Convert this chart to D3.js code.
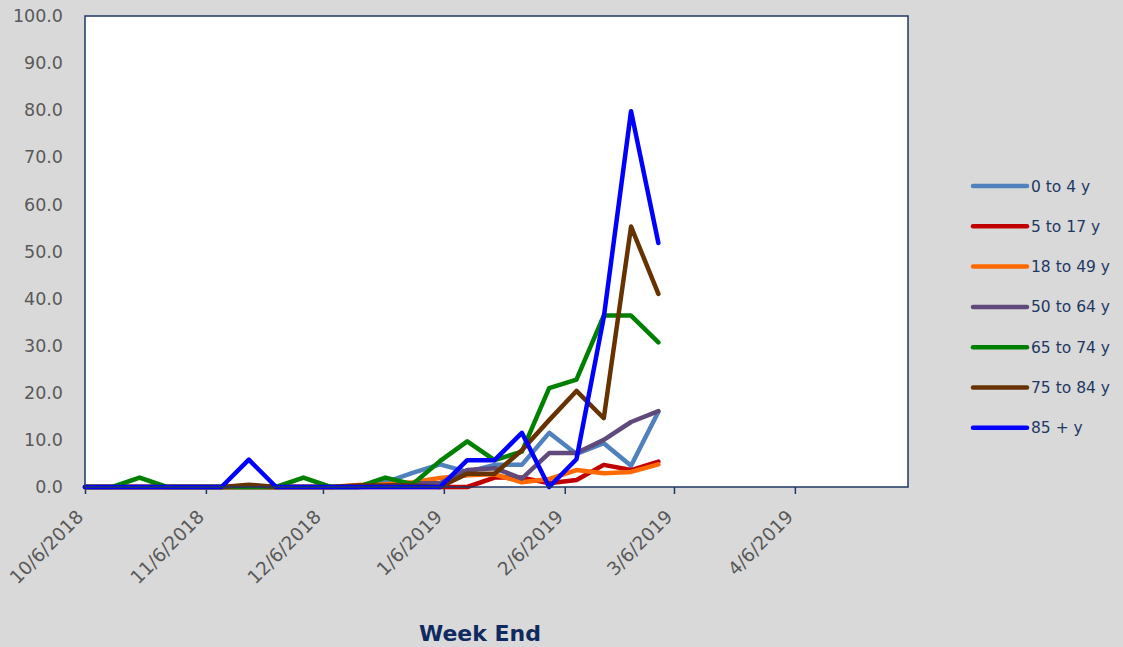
<!DOCTYPE html>
<html>
<head>
<meta charset="utf-8">
<script src="https://cdn.jsdelivr.net/npm/d3@7"></script>
<style>
  body { margin: 0; background: #d9d9d9; }
  svg { display: block; }
  .tick-label { font-family: "DejaVu Sans", Verdana, sans-serif; font-size: 17.5px; fill: #595959; }
  .x-label { font-size: 18.5px; }
  .legend-label { font-family: "DejaVu Sans", Verdana, sans-serif; font-size: 15.5px; fill: #1f3864; }
  .axis-title { font-family: "DejaVu Sans", Verdana, sans-serif; font-size: 22px; font-weight: bold; fill: #0f2a5f; }
</style>
</head>
<body>
<div id="wrapper"></div>
<script>
// week-ending dates (weekly, Saturdays)
const weekEnds = [
  "2018-10-06", "2018-10-13", "2018-10-20", "2018-10-27",
  "2018-11-03", "2018-11-10", "2018-11-17", "2018-11-24",
  "2018-12-01", "2018-12-08", "2018-12-15", "2018-12-22",
  "2018-12-29", "2019-01-05", "2019-01-12", "2019-01-19",
  "2019-01-26", "2019-02-02", "2019-02-09", "2019-02-16",
  "2019-02-23", "2019-03-02"
]
// rates per age group
const age0to4   = [0, 0, 0, 0, 0, 0, 0, 0, 0, 0, 0, 1.0, 3.0, 4.8, 3.2, 4.7, 4.7, 11.5, 7.0, 9.3, 4.5, 16.0]
const age5to17  = [0, 0, 0, 0, 0, 0, 0, 0, 0, 0, 0, 0, 0, 0, 0, 2.0, 2.0, 0.8, 1.5, 4.7, 3.6, 5.4]
const age18to49 = [0, 0, 0, 0, 0, 0, 0, 0, 0, 0, 0.4, 0.6, 1.0, 1.9, 2.5, 2.7, 1.0, 1.7, 3.6, 2.9, 3.2, 4.8]
const age50to64 = [0, 0, 0, 0, 0, 0, 0, 0, 0, 0, 0, 0.2, 0.8, 0.8, 3.6, 4.0, 1.8, 7.2, 7.2, 10.0, 13.8, 16.1]
const age65to74 = [0, 0, 2.0, 0, 0, 0, 0, 0, 2.0, 0, 0, 2.0, 0.6, 5.5, 9.7, 5.7, 7.5, 21.0, 22.8, 36.4, 36.4, 30.7]
const age75to84 = [0, 0, 0, 0, 0, 0, 0.5, 0, 0, 0, 0.3, 0.3, 0.3, 0, 2.8, 2.8, 7.8, 14.2, 20.4, 14.6, 55.3, 41.0]
const age85plus = [0, 0, 0, 0, 0, 0, 5.8, 0, 0, 0, 0, 0, 0, 0, 5.7, 5.7, 11.5, 0, 5.9, 36.0, 79.8, 51.8]

const seriesNames = ["0 to 4 y", "5 to 17 y", "18 to 49 y", "50 to 64 y", "65 to 74 y", "75 to 84 y", "85 + y"]
const seriesValues = [age0to4, age5to17, age18to49, age50to64, age65to74, age75to84, age85plus]
const seriesColors = ["#4f81bd", "#c00000", "#ff6a00", "#604a7b", "#008000", "#663300", "#0000ff"]

const xTickDates = ["2018-10-06", "2018-11-06", "2018-12-06", "2019-01-06", "2019-02-06", "2019-03-06", "2019-04-06"]
const xDomain = ["2018-10-06", "2019-05-05"]
const yTicks = [0, 10, 20, 30, 40, 50, 60, 70, 80, 90, 100]

const parseDate = d3.timeParse("%Y-%m-%d")
const formatTick = d => `${d.getMonth() + 1}/${d.getDate()}/${d.getFullYear()}`

let dimensions = {
  width: 1123,
  height: 647,
  margin: { top: 16, right: 215, bottom: 160, left: 85 },
}
dimensions.boundedWidth = dimensions.width - dimensions.margin.left - dimensions.margin.right
dimensions.boundedHeight = dimensions.height - dimensions.margin.top - dimensions.margin.bottom

const wrapper = d3.select("#wrapper")
  .append("svg")
  .attr("width", dimensions.width)
  .attr("height", dimensions.height)

wrapper.append("rect")
  .attr("width", dimensions.width)
  .attr("height", dimensions.height)
  .attr("fill", "#d9d9d9")

const bounds = wrapper.append("g")
  .attr("transform", `translate(${dimensions.margin.left},${dimensions.margin.top})`)

const xScale = d3.scaleTime()
  .domain(xDomain.map(parseDate))
  .range([0, dimensions.boundedWidth])

const yScale = d3.scaleLinear()
  .domain([0, 100])
  .range([dimensions.boundedHeight, 0])

// plot area
bounds.append("rect")
  .attr("width", dimensions.boundedWidth)
  .attr("height", dimensions.boundedHeight)
  .attr("fill", "white")

// x axis with outward ticks
const xAxis = d3.axisBottom(xScale)
  .tickValues(xTickDates.map(parseDate))
  .tickSize(7)
  .tickSizeOuter(0)
  .tickFormat(formatTick)

const xAxisGroup = bounds.append("g")
  .attr("transform", `translate(0,${dimensions.boundedHeight})`)
  .call(xAxis)
xAxisGroup.select(".domain").remove()
xAxisGroup.selectAll("line").attr("stroke", "#1f3864").attr("stroke-width", 1.5)
xAxisGroup.selectAll("text")
  .attr("class", "tick-label x-label")
  .attr("text-anchor", "end")
  .attr("dy", null)
  .attr("y", 0)
  .attr("transform", "translate(-1,31) rotate(-45)")

// y axis labels only
const yAxis = d3.axisLeft(yScale)
  .tickValues(yTicks)
  .tickSize(0)
  .tickPadding(22)
  .tickFormat(d3.format(".1f"))

const yAxisGroup = bounds.append("g").call(yAxis)
yAxisGroup.select(".domain").remove()
yAxisGroup.selectAll("text").attr("class", "tick-label")

// lines
const lineGenerator = d3.line()
  .x((d, i) => xScale(parseDate(weekEnds[i])))
  .y(d => yScale(d))

bounds.selectAll(".series")
  .data(seriesValues)
  .enter().append("path")
  .attr("class", "series")
  .attr("d", lineGenerator)
  .attr("fill", "none")
  .attr("stroke", (d, i) => seriesColors[i])
  .attr("stroke-width", 4.5)
  .attr("stroke-linejoin", "round")
  .attr("stroke-linecap", "round")

// plot border
bounds.append("rect")
  .attr("width", dimensions.boundedWidth)
  .attr("height", dimensions.boundedHeight)
  .attr("fill", "none")
  .attr("stroke", "#1f3864")
  .attr("stroke-width", 1.5)

// x axis title
wrapper.append("text")
  .attr("class", "axis-title")
  .attr("x", 480)
  .attr("y", 641)
  .attr("text-anchor", "middle")
  .text("Week End")

// legend
const legendGroup = wrapper.append("g")
  .attr("transform", "translate(973,186)")

const legendItems = legendGroup.selectAll(".legend-item")
  .data(seriesNames)
  .enter().append("g")
  .attr("transform", (d, i) => `translate(0,${i * 40.3})`)

legendItems.append("line")
  .attr("x1", 0)
  .attr("x2", 54)
  .attr("stroke", (d, i) => seriesColors[i])
  .attr("stroke-width", 4.5)
  .attr("stroke-linecap", "round")

legendItems.append("text")
  .attr("class", "legend-label")
  .attr("x", 58)
  .attr("dy", "0.36em")
  .text(d => d)
</script>
</body>
</html>
